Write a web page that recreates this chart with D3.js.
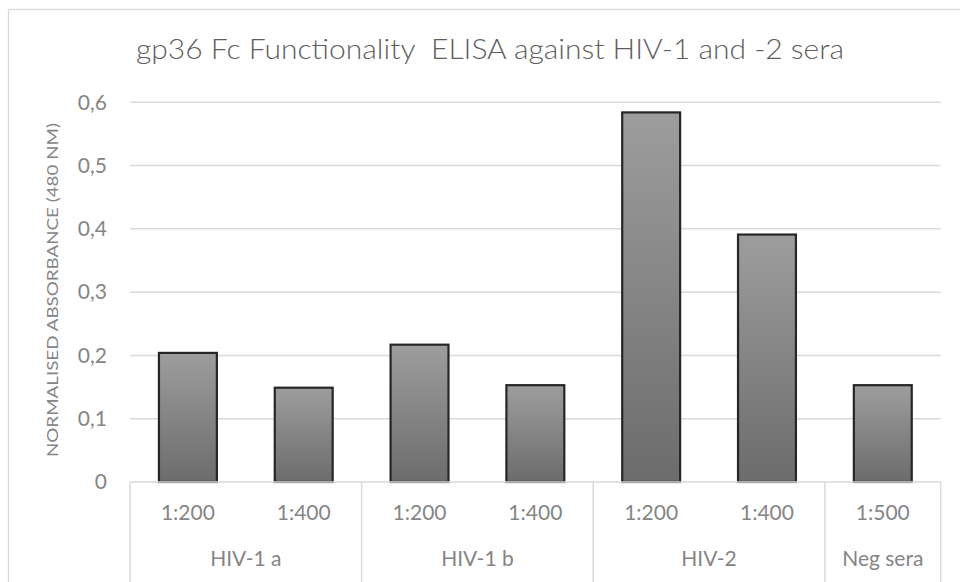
<!DOCTYPE html>
<html>
<head>
<meta charset="utf-8">
<script src="https://cdn.jsdelivr.net/npm/d3@7"></script>
<style>
  html, body { margin: 0; padding: 0; background: #fff; }
  svg { display: block; }
  text { font-family: Lato, "Open Sans", "Liberation Sans", sans-serif; }
</style>
</head>
<body>
<svg id="chart" width="960" height="582"></svg>
<script>
// ---- data ----
const categories = ["1:200", "1:400", "1:200", "1:400", "1:200", "1:400", "1:500"];
const groups = ["HIV-1 a", "HIV-1 a", "HIV-1 b", "HIV-1 b", "HIV-2", "HIV-2", "Neg sera"];
const values = [0.204, 0.149, 0.217, 0.153, 0.584, 0.391, 0.153];
const yTicks = [0, 0.1, 0.2, 0.3, 0.4, 0.5, 0.6];
const titleText = "gp36 Fc Functionality  ELISA against HIV-1 and -2 sera";
const yAxisTitle = "NORMALISED ABSORBANCE (480 NM)";

// ---- layout ----
const svg = d3.select("#chart");
const plot = { left: 130, right: 940.7, top: 102.3, bottom: 482 };
const labelColor = "#858585";

const idx = categories.map((_, i) => i);
const x = d3.scaleBand().domain(idx).range([plot.left, plot.right])
  .paddingInner(0.5).paddingOuter(0.25);
const y = d3.scaleLinear().domain([0, 0.6]).range([plot.bottom, plot.top]);
const step = x.step();
const slotStart = i => x(i) - step * 0.25;

// outer chart border
svg.append("rect")
  .attr("x", 8.5).attr("y", 9.5).attr("width", 1000).attr("height", 700)
  .attr("fill", "none").attr("stroke", "#d9d9d9").attr("stroke-width", 1.3);

// gradient
const defs = svg.append("defs");
const grad = defs.append("linearGradient").attr("id", "barGrad")
  .attr("x1", 0).attr("y1", 0).attr("x2", 0).attr("y2", 1);
grad.append("stop").attr("offset", "0%").attr("stop-color", "#9d9d9d");
grad.append("stop").attr("offset", "100%").attr("stop-color", "#6c6c6c");

// gridlines
svg.append("g").selectAll("line").data(yTicks.filter(d => d > 0)).join("line")
  .attr("x1", plot.left).attr("x2", plot.right)
  .attr("y1", d => y(d)).attr("y2", d => y(d))
  .attr("stroke", "#d9d9d9").attr("stroke-width", 1.5);

// y tick labels via axis
const yAxis = d3.axisLeft(y).tickValues(yTicks)
  .tickFormat(d => d === 0 ? "0" : d3.format(".1f")(d).replace(".", ","))
  .tickSize(0).tickPadding(0);
const gy = svg.append("g").attr("transform", `translate(107,0)`).call(yAxis);
gy.select(".domain").remove();
gy.selectAll("text")
  .attr("fill", labelColor).style("font-size", "21px").style("font-weight", 400)
  .style("font-family", "Lato, 'Open Sans', sans-serif");

// bars
svg.append("g").selectAll("rect").data(values).join("rect")
  .attr("x", (d, i) => x(i)).attr("width", x.bandwidth())
  .attr("y", d => y(d)).attr("height", d => y(0) - y(d))
  .attr("fill", "url(#barGrad)")
  .attr("stroke", "#262626").attr("stroke-width", 2.2);

// category axis baseline
svg.append("line")
  .attr("x1", plot.left).attr("x2", plot.right)
  .attr("y1", plot.bottom).attr("y2", plot.bottom)
  .attr("stroke", "#d9d9d9").attr("stroke-width", 1.5);

// group spans
const groupNames = Array.from(new Set(groups));
const spans = groupNames.map(g => {
  const ids = idx.filter(i => groups[i] === g);
  const a = slotStart(ids[0]);
  const b = slotStart(ids[ids.length - 1]) + step;
  return { name: g, a, b };
});
const dividers = [spans[0].a].concat(spans.map(s => s.b));
svg.append("g").selectAll("line").data(dividers).join("line")
  .attr("x1", d => d).attr("x2", d => d)
  .attr("y1", plot.bottom).attr("y2", 582)
  .attr("stroke", "#d9d9d9").attr("stroke-width", 1.5);

// level-1 labels
svg.append("g").selectAll("text").data(categories).join("text")
  .attr("x", (d, i) => x(i) + x.bandwidth() / 2)
  .attr("y", 520)
  .attr("text-anchor", "middle")
  .attr("fill", labelColor).style("font-size", "21px").style("font-weight", 400)
  .text(d => d);

// level-2 labels
svg.append("g").selectAll("text").data(spans).join("text")
  .attr("x", d => (d.a + d.b) / 2)
  .attr("y", 566)
  .attr("text-anchor", "middle")
  .attr("fill", labelColor).style("font-size", "21px").style("font-weight", 400)
  .text(d => d.name);

// title
svg.append("text")
  .attr("x", 490).attr("y", 59)
  .attr("text-anchor", "middle")
  .attr("fill", "#5e5e5e").style("font-size", "27px").style("font-weight", 300)
  .style("white-space", "pre")
  .attr("textLength", 708).attr("lengthAdjust", "spacingAndGlyphs")
  .text(titleText);

// y axis title
svg.append("text")
  .attr("transform", "translate(58,290) rotate(-90)")
  .attr("text-anchor", "middle")
  .attr("fill", labelColor).style("font-size", "16px").style("font-weight", 400)
  .attr("textLength", 334).attr("lengthAdjust", "spacingAndGlyphs")
  .text(yAxisTitle);
</script>
</body>
</html>
